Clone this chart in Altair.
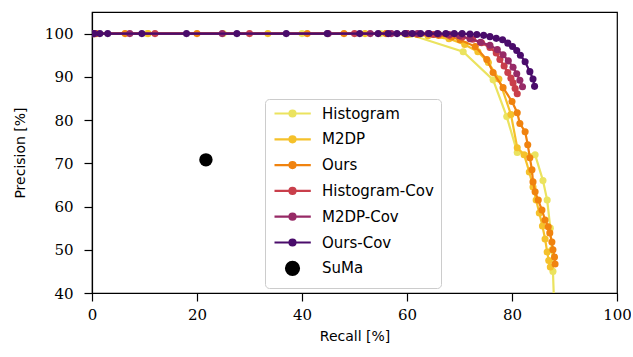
import altair as alt
import pandas as pd

series_names = ["Histogram", "M2DP", "Ours", "Histogram-Cov", "M2DP-Cov", "Ours-Cov", "SuMa"]
series_colors = ["#ebe35f", "#f5c12b", "#f0830f", "#c93f4b", "#972a66", "#4a0c6b", "#000000"]

hist_recall = [0.3, 10.5, 25.0, 40.0, 55.0, 60.5, 70.7, 76.4, 79.0, 81.0, 84.4, 85.9, 86.7, 87.3, 87.6, 87.8, 88.0]
hist_precision = [100, 100, 100, 100, 100, 99.8, 95.8, 89.3, 80.8, 72.5, 72.0, 66.0, 61.5, 55.0, 50.0, 45.0, 38.0]

m2dp_recall = [0.8, 10.7, 33.5, 52.0, 60.0, 64.0, 68.0, 71.0, 73.5, 75.5, 77.5, 79.8, 81.0, 82.3, 83.3, 84.0, 84.6, 85.2, 85.8, 86.3, 86.7, 87.0, 87.3]
m2dp_precision = [100, 100, 100, 100, 99.8, 99.5, 98.8, 97.5, 95.8, 93.3, 89.5, 81.3, 73.6, 72.0, 68.0, 64.5, 61.5, 58.5, 55.5, 52.5, 49.5, 47.5, 46.0]

ours_recall = [0.6, 6.3, 20.0, 41.0, 48.0, 56.0, 62.0, 66.0, 68.5, 70.1, 73.0, 75.2, 76.4, 78.3, 80.0, 81.0, 81.5, 82.5, 83.0, 83.4, 83.8, 84.0, 84.4, 85.0, 85.7, 86.3, 86.9, 87.2, 87.6, 87.8, 88.1, 88.2]
ours_precision = [100, 100, 100, 100, 100, 100, 99.8, 99.6, 99.2, 98.6, 97.0, 94.0, 91.0, 87.5, 84.3, 81.7, 79.2, 77.3, 74.3, 71.3, 68.5, 65.7, 63.4, 61.5, 59.2, 56.9, 55.3, 53.9, 51.8, 50.0, 48.3, 46.7]

histcov_recall = [0.5, 12.0, 30.0, 50.0, 60.0, 65.0, 68.0, 70.5, 72.5, 74.2, 75.8, 77.0, 77.7, 78.5, 79.2, 79.8, 80.2, 80.6, 81.0]
histcov_precision = [100, 100, 100, 100, 100, 99.8, 99.6, 99.2, 98.7, 97.9, 96.8, 95.5, 94.0, 92.5, 91.0, 89.7, 88.6, 87.3, 86.1]

m2dpcov_recall = [0.5, 7.2, 24.8, 45.0, 53.0, 57.0, 60.0, 62.0, 64.0, 66.0, 68.0, 70.0, 72.0, 74.0, 75.8, 77.2, 78.3, 79.3, 80.2, 80.9, 81.5, 82.0]
m2dpcov_precision = [100, 100, 100, 100, 100, 100, 100, 100, 100, 99.9, 99.8, 99.5, 98.8, 98.0, 97.3, 96.3, 95.1, 93.7, 92.2, 90.7, 89.2, 87.7]

ourscov_recall = [0.3, 1.5, 3.0, 9.5, 18.0, 27.6, 37.0, 44.8, 51.0, 54.5, 56.4, 58.1, 59.6, 61.0, 62.6, 64.2, 65.8, 67.4, 69.0, 70.5, 72.0, 73.3, 74.6, 75.8, 77.0, 78.2, 79.2, 80.1, 80.9, 81.6, 82.5, 83.4, 84.0, 84.3]
ourscov_precision = [100, 100, 100, 100, 100, 100, 100, 100, 100, 100, 100, 100, 100, 100, 100, 100, 100, 100, 100, 100, 99.9, 99.8, 99.6, 99.3, 98.9, 98.6, 97.8, 97.0, 96.1, 95.0, 93.5, 91.2, 89.5, 87.8]

suma_recall = [21.7]
suma_precision = [70.8]

all_series = [
    ("Histogram", hist_recall, hist_precision),
    ("M2DP", m2dp_recall, m2dp_precision),
    ("Ours", ours_recall, ours_precision),
    ("Histogram-Cov", histcov_recall, histcov_precision),
    ("M2DP-Cov", m2dpcov_recall, m2dpcov_precision),
    ("Ours-Cov", ourscov_recall, ourscov_precision),
    ("SuMa", suma_recall, suma_precision),
]

rows = []
for name, rec, prec in all_series:
    for i, (r, p) in enumerate(zip(rec, prec)):
        rows.append({"series": name, "recall": r, "precision": p, "idx": i})
df = pd.DataFrame(rows)

# legend glyphs: short line with a dot, and a big dot (invisible moveTo points equalise the bounds)
line_sym = "M-1,-1.5M6.26,1.5M-1,0L6.26,0M3.2,0A0.6,0.6,0,1,1,2.0,0A0.6,0.6,0,1,1,3.2,0Z"
dot_sym = "M-1,-1.5M6.26,1.5M3.9,0A1.3,1.3,0,1,1,1.3,0A1.3,1.3,0,1,1,3.9,0Z"

legend = alt.Legend(
    title=None,
    orient="none",
    legendX=173,
    legendY=87,
    symbolType=alt.ExprRef(f"datum.value == 'SuMa' ? '{dot_sym}' : '{line_sym}'"),
    symbolStrokeColor=alt.ExprRef("scale('color', datum.value)"),
    symbolSize=100,
    symbolStrokeWidth=2.2,
    symbolOpacity=1,
    labelFont="DejaVu Sans",
    labelFontSize=15,
    labelColor="black",
    labelOffset=35,
    padding=7,
    rowPadding=0.8,
    fillColor="white",
    strokeColor="#cccccc",
    cornerRadius=4,
)

x_enc = alt.X("recall:Q", scale=alt.Scale(domain=[0, 100], nice=False),
              axis=alt.Axis(values=[0, 20, 40, 60, 80, 100], title="Recall [%]",
                            labelFlush=False, labelPadding=6, titlePadding=7))
y_enc = alt.Y("precision:Q", scale=alt.Scale(domain=[40, 105], nice=False),
              axis=alt.Axis(values=[40, 50, 60, 70, 80, 90, 100], title="Precision [%]",
                            labelFlush=False, labelPadding=11, titlePadding=17))
c_enc = alt.Color("series:N", scale=alt.Scale(domain=series_names, range=series_colors), legend=legend)

base = alt.Chart(df)
layers = []
for name, _, _ in all_series:
    sub = base.transform_filter(alt.datum.series == name)
    if name != "SuMa":
        layers.append(sub.mark_line(strokeWidth=2.2, clip=True).encode(
            x=x_enc, y=y_enc, color=c_enc, order="idx:Q"))
        layers.append(sub.mark_circle(size=50, opacity=1, clip=True).encode(
            x=x_enc, y=y_enc, color=c_enc))
    else:
        layers.append(sub.mark_circle(size=180, opacity=1, clip=True).encode(
            x=x_enc, y=y_enc, color=c_enc))

chart = alt.layer(*layers).properties(
    width=525, height=281,
    padding={"left": 92, "top": 12, "right": 14, "bottom": 58},
    autosize=alt.AutoSizeParams(type="none"),
).configure_view(
    stroke="black", strokeWidth=1.2
).configure_axis(
    grid=False,
    domainColor="black", domainWidth=1.2,
    tickColor="black", tickWidth=1.2, tickSize=8,
    labelColor="black", labelFont="DejaVu Serif", labelFontSize=15,
    titleColor="black", titleFont="DejaVu Sans", titleFontSize=14, titleFontWeight="normal",
)

chart.save("out.html", embed_options={"renderer": "svg", "actions": False})
